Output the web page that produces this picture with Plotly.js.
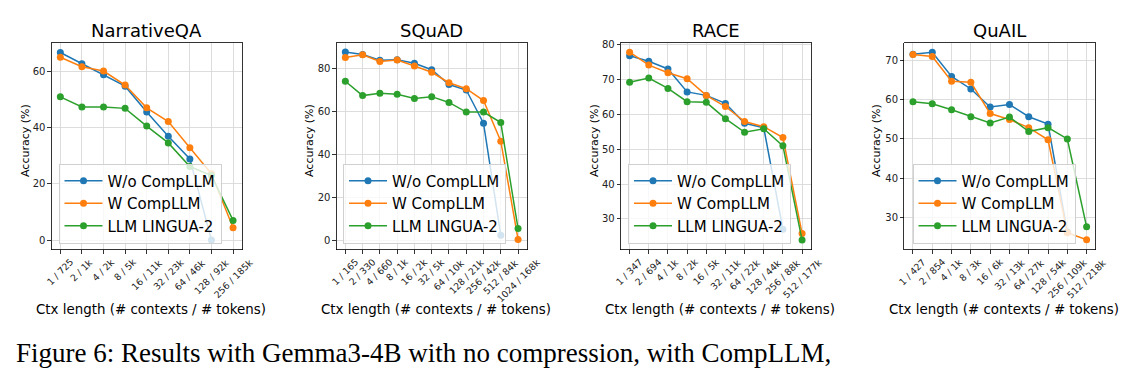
<!DOCTYPE html>
<html>
<head>
<meta charset="utf-8">
<script src="https://cdn.plot.ly/plotly-3.0.1.min.js"></script>
<style>
html,body{margin:0;padding:0;background:#fff;}
#chart{width:1129px;height:387px;}
</style>
</head>
<body>
<div id="chart"></div>
<script>
// ---------- data ----------
const seriesNames = ["W/o CompLLM", "W CompLLM", "LLM LINGUA-2"];
const panelTitles = ["NarrativeQA", "SQuAD", "RACE", "QuAIL"];

const narrativeCats = ["1 / 725","2 / 1k","4 / 2k","8 / 5k","16 / 11k","32 / 23k","64 / 46k","128 / 92k","256 / 185k"];
const narrativeWo   = [66.8, 62.8, 58.9, 54.8, 45.6, 37.0, 28.9, 0.0];
const narrativeW    = [65.1, 61.7, 60.2, 55.2, 47.1, 42.2, 32.9, 23.6, 4.4];
const narrativeLing = [51.0, 47.4, 47.4, 46.9, 40.6, 34.6, 26.2, 23.0, 7.0];

const squadCats = ["1 / 165","2 / 330","4 / 660","8 / 1k","16 / 2k","32 / 5k","64 / 10k","128 / 21k","256 / 42k","512 / 84k","1024 / 168k"];
const squadWo   = [87.9, 86.7, 84.0, 84.2, 82.6, 79.6, 72.7, 70.1, 54.6, 2.2];
const squadW    = [85.3, 86.6, 83.4, 84.1, 81.3, 78.4, 73.5, 70.7, 65.2, 46.2, 0.3];
const squadLing = [74.2, 67.5, 68.6, 68.1, 66.1, 67.0, 64.3, 59.8, 59.8, 54.9, 5.4];

const raceCats = ["1 / 347","2 / 694","4 / 1k","8 / 2k","16 / 5k","32 / 11k","64 / 22k","128 / 44k","256 / 88k","512 / 177k"];
const raceWo   = [76.9, 75.3, 73.1, 66.5, 65.5, 63.2, 57.5, 56.2, 27.0];
const raceW    = [77.9, 74.2, 72.0, 70.3, 65.5, 62.3, 58.0, 56.5, 53.4, 25.8];
const raceLing = [69.3, 70.5, 67.5, 63.7, 63.5, 58.8, 54.9, 55.9, 51.0, 23.9];

const quailCats = ["1 / 427","2 / 854","4 / 1k","8 / 3k","16 / 6k","32 / 13k","64 / 27k","128 / 54k","256 / 109k","512 / 218k"];
const quailWo   = [71.7, 72.2, 66.0, 62.8, 58.2, 58.8, 55.7, 53.8, 26.2];
const quailW    = [71.6, 71.1, 64.8, 64.5, 56.5, 55.0, 52.9, 49.8, 26.0, 24.2];
const quailLing = [59.5, 59.0, 57.5, 55.7, 54.1, 55.6, 51.9, 52.9, 50.0, 27.5];

const yTicks = [[0,20,40,60],[0,20,40,60,80],[30,40,50,60,70,80],[30,40,50,60,70]];
const yRanges = [[-3.35, 70.35],[-4.4, 92.3],[21.2, 80.7],[21.7, 74.7]];

// ---------- styling ----------
const FAM = "DejaVu Sans, sans-serif";
const colors = ["#1f77b4", "#ff7f0e", "#2ca02c"];
const W = 1129, H = 387;
const xDomainsPx = [[51.7, 241.7],[336.7, 526.7],[621, 810.7],[904.3, 1095.3]];
const yTopPx = 42.5, yBotPx = 249.5;
const legendPx = [[58.5, 243.5],[343, 243.5],[628, 243.5],[912.5, 243.5]];
const ylabelPx = [25, 309, 594, 876];

const panels = [
  {cats: narrativeCats, data: [narrativeWo, narrativeW, narrativeLing]},
  {cats: squadCats, data: [squadWo, squadW, squadLing]},
  {cats: raceCats, data: [raceWo, raceW, raceLing]},
  {cats: quailCats, data: [quailWo, quailW, quailLing]},
];

const traces = [];
const layout = {
  width: W, height: H,
  margin: {l:0, r:0, t:0, b:0},
  paper_bgcolor: "#fff", plot_bgcolor: "#fff",
  font: {family: FAM, color: "#000"},
  annotations: [],
  showlegend: true
};

panels.forEach((p, i) => {
  const sfx = i === 0 ? "" : String(i + 1);
  const legName = "legend" + sfx;
  p.data.forEach((vals, s) => {
    traces.push({
      type: "scatter", mode: "lines+markers",
      name: seriesNames[s],
      x: p.cats.slice(0, vals.length), y: vals,
      xaxis: "x" + sfx, yaxis: "y" + sfx,
      legend: legName,
      line: {color: colors[s], width: 1.5},
      marker: {color: colors[s], size: 7},
      cliponaxis: true
    });
  });
  const n = p.cats.length;
  layout["xaxis" + sfx] = {
    domain: [xDomainsPx[i][0] / W, xDomainsPx[i][1] / W],
    anchor: "y" + sfx,
    type: "category",
    categoryorder: "array", categoryarray: p.cats,
    range: [-0.05 * (n - 1), (n - 1) * 1.05],
    showticklabels: false,
    ticks: "outside", ticklen: 3.5, tickcolor: "#000", tickwidth: 0.8,
    showline: true, mirror: true, linecolor: "#000", linewidth: 0.8,
    showgrid: true, gridcolor: "#d4d4d4", gridwidth: 0.8,
    zeroline: false, fixedrange: true
  };
  layout["yaxis" + sfx] = {
    domain: [1 - yBotPx / H, 1 - yTopPx / H],
    anchor: "x" + sfx,
    range: yRanges[i],
    tickmode: "array", tickvals: yTicks[i],
    tickfont: {family: FAM, size: 10, color: "#222"},
    ticks: "outside", ticklen: 3.5, tickcolor: "#000", tickwidth: 0.8,
    showline: true, mirror: true, linecolor: "#000", linewidth: 0.8,
    showgrid: true, gridcolor: "#d4d4d4", gridwidth: 0.8,
    zeroline: false, fixedrange: true
  };
  // x tick labels: rotated 45°, centred on the tick (matplotlib style)
  p.cats.forEach((c) => {
    layout.annotations.push({
      text: c, xref: "x" + sfx, yref: "paper",
      x: c, y: 1 - 255 / H, xanchor: "center", yanchor: "top",
      textangle: -45, showarrow: false, borderpad: 0,
      font: {family: FAM, size: 9.3, color: "#222"}
    });
  });
  layout[legName] = {
    x: legendPx[i][0] / W, xanchor: "left",
    y: 1 - legendPx[i][1] / H, yanchor: "bottom",
    xref: "paper", yref: "paper",
    bgcolor: "rgba(255,255,255,0.8)",
    bordercolor: "#d0d0d0", borderwidth: 1,
    font: {family: FAM, size: 15, color: "#000"},
    itemwidth: 38,
    tracegroupgap: 0
  };
  const cx = (xDomainsPx[i][0] + xDomainsPx[i][1]) / 2;
  layout.annotations.push({
    text: panelTitles[i], xref: "paper", yref: "paper",
    x: cx / W, y: 1 - 30 / H, xanchor: "center", yanchor: "middle",
    showarrow: false, font: {family: FAM, size: 18, color: "#000"}
  });
  layout.annotations.push({
    text: "Ctx length (# contexts / # tokens)", xref: "paper", yref: "paper",
    x: (cx + 4) / W, y: 1 - 309 / H, xanchor: "center", yanchor: "middle",
    showarrow: false, font: {family: FAM, size: 13.4, color: "#000"}
  });
  layout.annotations.push({
    text: "Accuracy (%)", xref: "paper", yref: "paper",
    x: ylabelPx[i] / W, y: 1 - 141 / H, xanchor: "center", yanchor: "middle",
    textangle: -90,
    showarrow: false, font: {family: FAM, size: 11, color: "#000"}
  });
});

layout.annotations.push({
  text: "Figure 6: Results with Gemma3-4B with no compression, with CompLLM,",
  xref: "paper", yref: "paper",
  x: 14 / W, y: 1 - 353 / H, xanchor: "left", yanchor: "middle",
  showarrow: false,
  font: {family: "Liberation Serif, Times New Roman, serif", size: 27, color: "#000"}
});

Plotly.newPlot("chart", traces, layout, {displayModeBar: false, staticPlot: true});
</script>
</body>
</html>
